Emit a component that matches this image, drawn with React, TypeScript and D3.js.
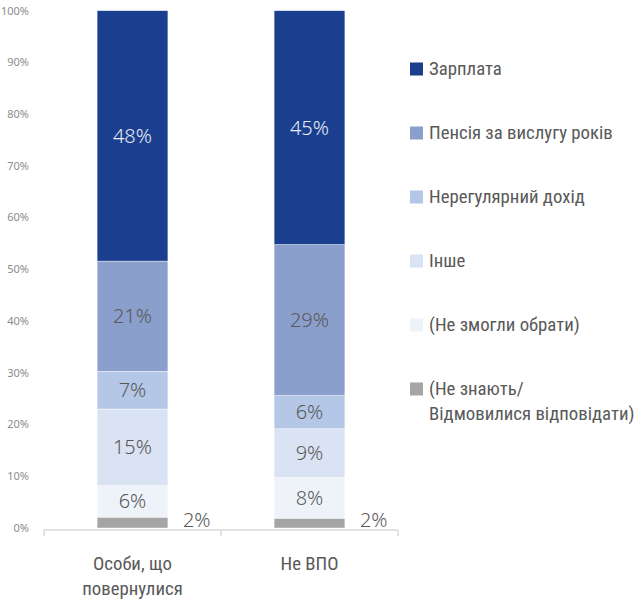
import * as d3 from "d3";

// Категорії та значення (частки, %)
const categories = ["Особи, що повернулися", "Не ВПО"];
const categoryLines = [["Особи, що", "повернулися"], ["Не ВПО"]];
const seriesNames = [
  "(Не знають/ Відмовилися відповідати)",
  "(Не змогли обрати)",
  "Інше",
  "Нерегулярний дохід",
  "Пенсія за вислугу років",
  "Зарплата",
];
const ukrainianReturnees = [2.1, 6.1, 14.8, 7.3, 21.3, 48.4];
const nonIdp = [1.9, 7.9, 9.4, 6.4, 29.2, 45.2];
const yTicks = [0, 10, 20, 30, 40, 50, 60, 70, 80, 90, 100];

const colors = ["#a5a5a5", "#eef3fa", "#dae3f3", "#b4c7e7", "#8a9fcb", "#1b3f8f"];

const legendOrder = [5, 4, 3, 2, 1, 0];
const legendLines: Record<number, string[]> = {
  0: ["(Не знають/", "Відмовилися відповідати)"],
};

const W = 638;
const H = 602;
const pctFont = "'Segoe UI', 'Noto Sans', sans-serif";
const narrowFont = "'Liberation Sans Narrow', 'Arial Narrow', 'Roboto Condensed', sans-serif";

export default function App() {
  const rows = categories.map((c, i) => {
    const vals = i === 0 ? ukrainianReturnees : nonIdp;
    const r: Record<string, number | string> = { category: c };
    seriesNames.forEach((s, k) => (r[s] = vals[k]));
    return r;
  });

  const stack = d3.stack<Record<string, number | string>>().keys(seriesNames);
  const layers = stack(rows as any);

  const x = d3
    .scaleBand()
    .domain(categories)
    .range([44, 398])
    .paddingInner(0.6)
    .paddingOuter(0.3);
  const y = d3.scaleLinear().domain([0, 100]).range([528, 10.7]);

  const axisY = 530;

  return (
    <svg
      width={W}
      height={H}
      style={{ position: "absolute", left: 0, top: 0, background: "#fff" }}
    >
      {/* Підписи осі Y */}
      {yTicks.map((t) => (
        <text
          key={t}
          x={29}
          y={y(t)}
          dy="0.35em"
          textAnchor="end"
          fontFamily={pctFont}
          fontSize={11}
          fill="#8c8c8c"
        >
          {t}%
        </text>
      ))}

      {/* Стовпці */}
      {layers.map((layer, k) =>
        layer.map((d, i) => {
          const cat = categories[i];
          return (
            <rect
              key={`${k}-${i}`}
              x={x(cat)!}
              y={y(d[1])}
              width={x.bandwidth()}
              height={y(d[0]) - y(d[1])}
              fill={colors[k]}
              stroke="#ffffff"
              strokeWidth={0.4}
            />
          );
        })
      )}

      {/* Підписи значень */}
      {layers.map((layer, k) =>
        layer.map((d, i) => {
          const cat = categories[i];
          const label = `${Math.round(d[1] - d[0])}%`;
          if (k === 0) {
            return (
              <text
                key={`l${k}-${i}`}
                x={x(cat)! + x.bandwidth() + 15}
                y={y(0) - 1}
                fontFamily={pctFont}
                fontWeight={300}
                fontSize={20}
                fill="#595959"
              >
                {label}
              </text>
            );
          }
          return (
            <text
              key={`l${k}-${i}`}
              x={x(cat)! + x.bandwidth() / 2}
              y={(y(d[0]) + y(d[1])) / 2}
              dy="0.35em"
              textAnchor="middle"
              fontFamily={pctFont}
              fontWeight={300}
              fontSize={20}
              fill={k === 5 ? "#e6ebf5" : "#595959"}
            >
              {label}
            </text>
          );
        })
      )}

      {/* Вісь X */}
      <line x1={44} x2={398} y1={axisY} y2={axisY} stroke="#d9d9d9" strokeWidth={1.5} />
      {[44, ...categories.map((c) => x(c)! + x.bandwidth() / 2 + x.step() / 2)].map((tx, i) => (
        <line key={i} x1={tx} x2={tx} y1={axisY} y2={axisY + 6} stroke="#d9d9d9" strokeWidth={1.5} />
      ))}
      {categories.map((c, i) => (
        <text
          key={c}
          textAnchor="middle"
          fontFamily={narrowFont}
          fontSize={18.8}
          fill="#595959"
        >
          {categoryLines[i].map((ln, j) => (
            <tspan key={j} x={x(c)! + x.bandwidth() / 2} y={570 + j * 25}>
              {ln}
            </tspan>
          ))}
        </text>
      ))}

      {/* Легенда */}
      {legendOrder.map((k, r) => {
        const cy = 69 + r * 64;
        const lines = legendLines[k] || [seriesNames[k]];
        return (
          <g key={k}>
            <rect x={410} y={cy - 6.5} width={13} height={13} fill={colors[k]} />
            <text fontFamily={narrowFont} fontSize={18.8} fill="#595959">
              {lines.map((ln, j) => (
                <tspan key={j} x={429} y={cy + 6 + j * 25}>
                  {ln}
                </tspan>
              ))}
            </text>
          </g>
        );
      })}
    </svg>
  );
}
